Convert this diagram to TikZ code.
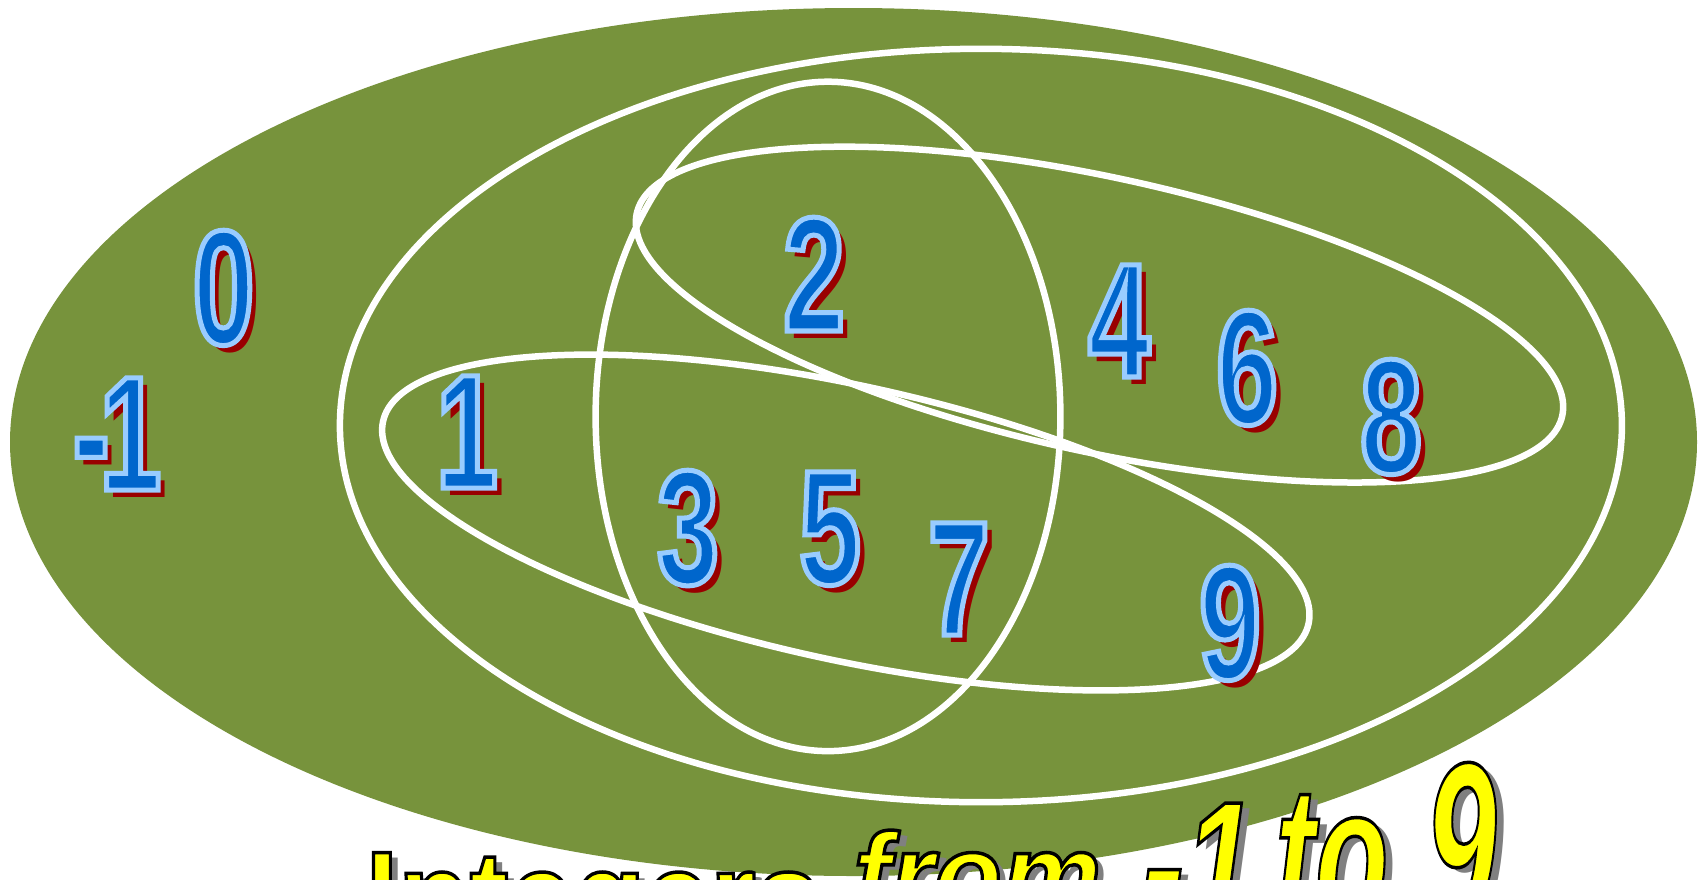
\documentclass[tikz,border=0pt]{standalone}
\usepackage{fontspec}
\setmainfont{Liberation Sans}
\newfontfamily\numfont{Liberation Sans}[FakeStretch=0.68]
\definecolor{bggreen}{HTML}{77933C}
\definecolor{numfill}{HTML}{0066CC}
\definecolor{numshadow}{HTML}{990000}
\definecolor{wfill}{HTML}{FFFF00}
\definecolor{wshadow}{HTML}{808080}
\newcommand\digitart[1]{\makebox[0pt][l]{\kern7pt\raisebox{-7pt}{\textcolor{numshadow}{#1}}}\textcolor{numfill}{\special{pdf:literal direct 0.6 0.8 1 RG 5 w 2 Tr}#1\special{pdf:literal direct 0 Tr}}}
\newcommand\wordart[2]{\makebox[0pt][l]{\kern8pt\raisebox{-5pt}{\textcolor{wshadow}{\scalebox{#1}[1]{#2}}}}\textcolor{wfill}{\special{pdf:literal direct 0 0 0 RG 3.5 w 2 Tr}\scalebox{#1}[1]{#2}\special{pdf:literal direct 0 Tr}}}
\begin{document}
\begin{tikzpicture}[x=1pt,y=-1pt,
  setline/.style={draw=white,line width=6.5pt},
  digit/.style={anchor=base,inner sep=0pt,font=\numfont\bfseries\fontsize{163}{163}\selectfont},
  word/.style={anchor=base west,inner sep=0pt}]
\useasboundingbox (0,0) rectangle (1707,879);
% background set
\fill[bggreen] (853.5,442) ellipse [x radius=843.5, y radius=434];
% set outlines
\draw[setline] (980.9,425.5) ellipse [x radius=641, y radius=376.7];
\draw[setline] (828,416.4) ellipse [x radius=232.4, y radius=334.7];
\draw[setline, rotate around={-12.33:(1099.5,314.6)}] (1099.5,314.6) ellipse [x radius=473.7, y radius=137.2];
\draw[setline, rotate around={-12.33:(845.8,522.5)}] (845.8,522.5) ellipse [x radius=473.7, y radius=137.2];
% numbers
\node[digit] (dm1) at (117,490) {\digitart{-\kern-10pt 1}};
\node[digit] (d0) at (223.5,344) {\digitart{0}};
\node[digit] (d1) at (467,488) {\digitart{1}};
\node[digit] (d2) at (814,331) {\digitart{2}};
\node[digit] (d3) at (688,584) {\digitart{3}};
\node[digit] (d5) at (830,584) {\digitart{5}};
\node[digit] (d7) at (959,635) {\digitart{7}};
\node[digit] (d4) at (1119,377) {\digitart{4}};
\node[digit] (d6) at (1247,424) {\digitart{6}};
\node[digit] (d8) at (1391,473) {\digitart{8}};
\node[digit] (d9) at (1230,679) {\digitart{9}};
% title
\node[word, font=\bfseries\fontsize{130}{130}\selectfont] (w1) at (365.5,942) {\wordart{0.9}{Integers}};
\node[word, font=\bfseries\itshape\fontsize{120}{120}\selectfont] (w2) at (853,917) {\wordart{0.93}{from}};
\node[word, font=\bfseries\itshape\fontsize{180}{180}\selectfont] (w3) at (1142,927) {\wordart{0.7}{-1}};
\node[word, font=\bfseries\itshape\fontsize{200}{200}\selectfont] (w4) at (1275,925) {\wordart{0.6}{to}};
\node[word, font=\bfseries\itshape\fontsize{233}{233}\selectfont] (w5) at (1425,925) {\wordart{0.55}{9}};
\end{tikzpicture}
\end{document}
